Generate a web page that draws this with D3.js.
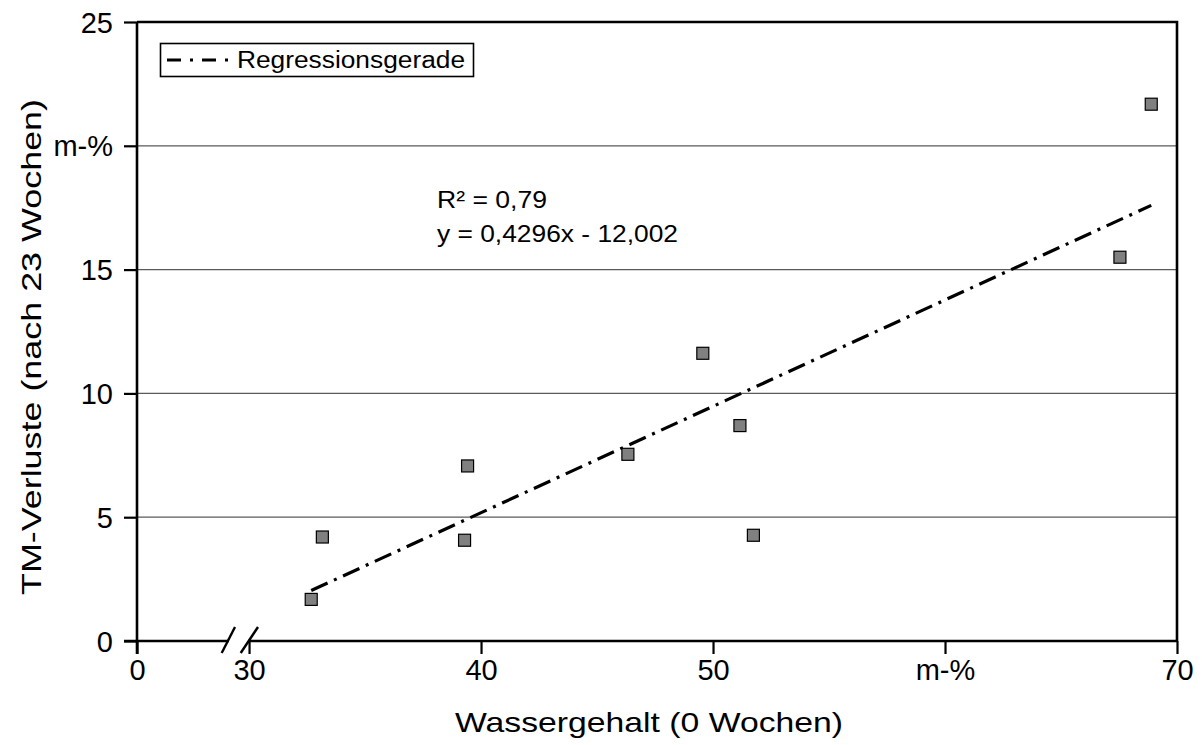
<!DOCTYPE html>
<html>
<head>
<meta charset="utf-8">
<script src="https://cdn.jsdelivr.net/npm/d3@7"></script>
<style>
  html, body { margin: 0; padding: 0; background: #fff; }
  svg { display: block; font-family: "Liberation Sans", Arial, sans-serif; }
</style>
</head>
<body>
<svg id="chart" width="1202" height="745"></svg>
<script>
// ---- data ----
const waterContent = [32.68, 33.16, 39.29, 39.42, 46.33, 49.56, 51.16, 51.74, 67.54, 68.89];
const dmLosses     = [1.68, 4.20, 4.07, 7.07, 7.54, 11.62, 8.70, 4.27, 15.50, 21.68];
const xTickValues  = [25.17, 30, 40, 50, 60, 70];
const xTickLabels  = ["0", "30", "40", "50", "m-%", "70"];
const yTickValues  = [0, 5, 10, 15, 20, 25];
const yTickLabels  = ["0", "5", "10", "15", "m-%", "25"];
const regSlope = 0.4296, regIntercept = -12.002;
const r2Label = "R² = 0,79";
const eqLabel = "y = 0,4296x - 12,002";
const legendLabel = "Regressionsgerade";
const xTitle = "Wassergehalt (0 Wochen)";
const yTitle = "TM-Verluste (nach 23 Wochen)";

// ---- layout ----
const L = 137, R = 1177, T = 22, B = 641;
const svg = d3.select("#chart");
const x = d3.scaleLinear().domain([25.17, 70]).range([L, R]);
const y = d3.scaleLinear().domain([0, 25]).range([B, T]);

// grid lines
svg.append("g").selectAll("line")
  .data(yTickValues.filter(v => v > 0 && v < 25))
  .join("line")
  .attr("x1", L).attr("x2", R)
  .attr("y1", d => y(d)).attr("y2", d => y(d))
  .attr("stroke", "#5a5a5a").attr("stroke-width", 1.3);

// frame (top and right)
svg.append("path")
  .attr("d", `M${L},${T}H${R}V${B}`)
  .attr("fill", "none").attr("stroke", "#000").attr("stroke-width", 2.6);

// axes
const xAxis = d3.axisBottom(x).tickValues(xTickValues)
  .tickFormat((d, i) => xTickLabels[i]).tickSize(13).tickSizeOuter(0).tickPadding(3);
const yAxis = d3.axisLeft(y).tickValues(yTickValues)
  .tickFormat((d, i) => yTickLabels[i]).tickSize(13).tickSizeOuter(0).tickPadding(11);

const gx = svg.append("g").attr("transform", `translate(0,${B})`).call(xAxis);
const gy = svg.append("g").attr("transform", `translate(${L},0)`).call(yAxis);
[gx, gy].forEach(g => {
  g.select(".domain").attr("stroke", "#000").attr("stroke-width", 2.6);
  g.selectAll(".tick line").attr("stroke", "#000").attr("stroke-width", 2.2);
  g.selectAll(".tick text").attr("fill", "#000")
    .style("font-family", '"Liberation Sans", Arial, sans-serif')
    .style("font-size", "29px");
});
gx.selectAll(".tick text").attr("dy", "0.78em");
gy.selectAll(".tick text").attr("dy", "0.35em");
gy.select(".domain").attr("d", `M0,${T}V${B + 13}`);
gx.select(".domain").attr("d", `M${L - 13},0H${R}`);

// axis break marks
const brk = svg.append("g");
brk.append("rect").attr("x", 229).attr("y", B - 3).attr("width", 19).attr("height", 6).attr("fill", "#fff");
[[221.7, 235], [240.7, 258]].forEach(([a, b]) => {
  brk.append("line").attr("x1", a).attr("y1", B + 12).attr("x2", b).attr("y2", B - 14)
    .attr("stroke", "#000").attr("stroke-width", 2.4);
});

// regression line
const xmin = d3.min(waterContent), xmax = d3.max(waterContent);
svg.append("line")
  .attr("x1", x(xmin)).attr("y1", y(regSlope * xmin + regIntercept))
  .attr("x2", x(xmax)).attr("y2", y(regSlope * xmax + regIntercept))
  .attr("stroke", "#000").attr("stroke-width", 3.2)
  .attr("stroke-dasharray", "18,7,3,7");

// points
const S = 12;
svg.append("g").selectAll("rect")
  .data(waterContent.map((v, i) => [v, dmLosses[i]]))
  .join("rect")
  .attr("x", d => x(d[0]) - S / 2).attr("y", d => y(d[1]) - S / 2)
  .attr("width", S).attr("height", S)
  .attr("fill", "#808080").attr("stroke", "#000").attr("stroke-width", 1.2);

// equation text
const eq = svg.append("g").style("font-size", "24px").attr("fill", "#000");
eq.append("text").attr("x", 437).attr("y", 208).text(r2Label)
  .attr("textLength", 110).attr("lengthAdjust", "spacingAndGlyphs");
eq.append("text").attr("x", 437).attr("y", 242).text(eqLabel)
  .attr("textLength", 241).attr("lengthAdjust", "spacingAndGlyphs");

// legend
const lg = svg.append("g");
lg.append("rect").attr("x", 160.5).attr("y", 43.5).attr("width", 313).attr("height", 33)
  .attr("fill", "#fff").attr("stroke", "#000").attr("stroke-width", 1.6);
lg.append("line").attr("x1", 167).attr("x2", 234).attr("y1", 60).attr("y2", 60)
  .attr("stroke", "#000").attr("stroke-width", 3).attr("stroke-dasharray", "14,9,3,9");
lg.append("text").attr("x", 237).attr("y", 68).text(legendLabel)
  .style("font-size", "23px").attr("textLength", 228).attr("lengthAdjust", "spacingAndGlyphs");

// axis titles
svg.append("text").attr("x", 649).attr("y", 732).attr("text-anchor", "middle")
  .style("font-size", "28px").text(xTitle)
  .attr("textLength", 388).attr("lengthAdjust", "spacingAndGlyphs");
svg.append("text").attr("transform", "translate(41,347) rotate(-90)")
  .attr("text-anchor", "middle").style("font-size", "28px").text(yTitle)
  .attr("textLength", 496).attr("lengthAdjust", "spacingAndGlyphs");
</script>
</body>
</html>
